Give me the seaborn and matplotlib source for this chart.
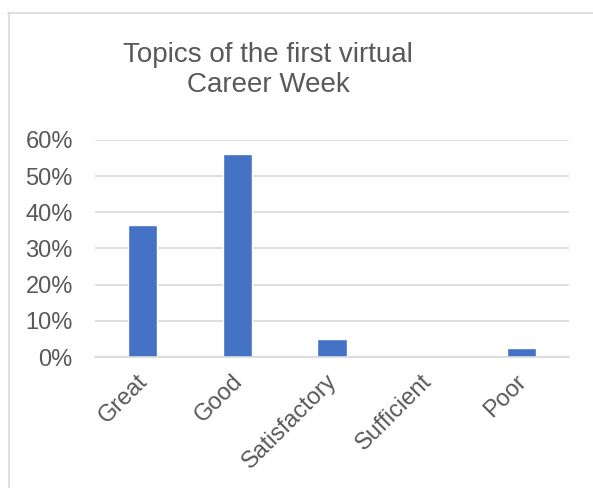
import matplotlib
matplotlib.use("Agg")
import matplotlib.pyplot as plt
import matplotlib.ticker as mticker
import matplotlib.transforms as mtrans
from matplotlib.lines import Line2D
import seaborn as sns
import pandas as pd

# Datos (41 respuestas)
ratings = ["Great", "Good", "Satisfactory", "Sufficient", "Poor"]
shares = [0.366, 0.561, 0.049, 0.0, 0.024]

sns.set_style("white")
plt.rcParams['font.family'] = ['Liberation Sans', 'DejaVu Sans']

text_col = "#595959"
grid_col = "#D9D9D9"

fig = plt.figure(figsize=(5.93, 4.88), dpi=100)
ax = fig.add_axes([95 / 593, 1 - 357 / 488, 474 / 593, 217 / 488])

df = pd.DataFrame({"rating": ratings, "share": shares})
sns.barplot(data=df, x="rating", y="share", color="#4472C4", width=0.31,
            saturation=1, ax=ax)

ax.set_ylim(0, 0.6)
ax.set_xlim(-0.5, len(ratings) - 0.5)
ax.yaxis.set_major_locator(mticker.MultipleLocator(0.1))
ax.yaxis.set_major_formatter(mticker.PercentFormatter(1.0, decimals=0))
ax.set_axisbelow(True)
ax.yaxis.grid(True, color=grid_col, linewidth=1.2)
for s in ["top", "right", "left"]:
    ax.spines[s].set_visible(False)
ax.spines["bottom"].set_color(grid_col)
ax.spines["bottom"].set_linewidth(1.2)
ax.set_xlabel("")
ax.set_ylabel("")
ax.tick_params(axis="y", length=0, pad=16, labelsize=17, labelcolor=text_col)
ax.tick_params(axis="x", length=0, pad=6, labelsize=17, labelcolor=text_col)
shift = mtrans.ScaledTranslation(-6 / 100, -5 / 100, fig.dpi_scale_trans)
for lab in ax.get_xticklabels():
    lab.set_rotation(45)
    lab.set_ha("right")
    lab.set_rotation_mode("anchor")
    lab.set_transform(lab.get_transform() + shift)

fig.text(268 / 593, 1 - 70 / 488, "Topics of the first virtual\nCareer Week",
         ha="center", va="center", fontsize=20, color=text_col,
         linespacing=1.25)

# Marco del área del gráfico
fig.add_artist(Line2D([8 / 593, 1], [1 - 12.5 / 488] * 2,
                      transform=fig.transFigure, color=grid_col, lw=1.2))
fig.add_artist(Line2D([8.5 / 593] * 2, [0, 1 - 12.5 / 488],
                      transform=fig.transFigure, color=grid_col, lw=1.2))

fig.savefig("out.png", dpi=100)
